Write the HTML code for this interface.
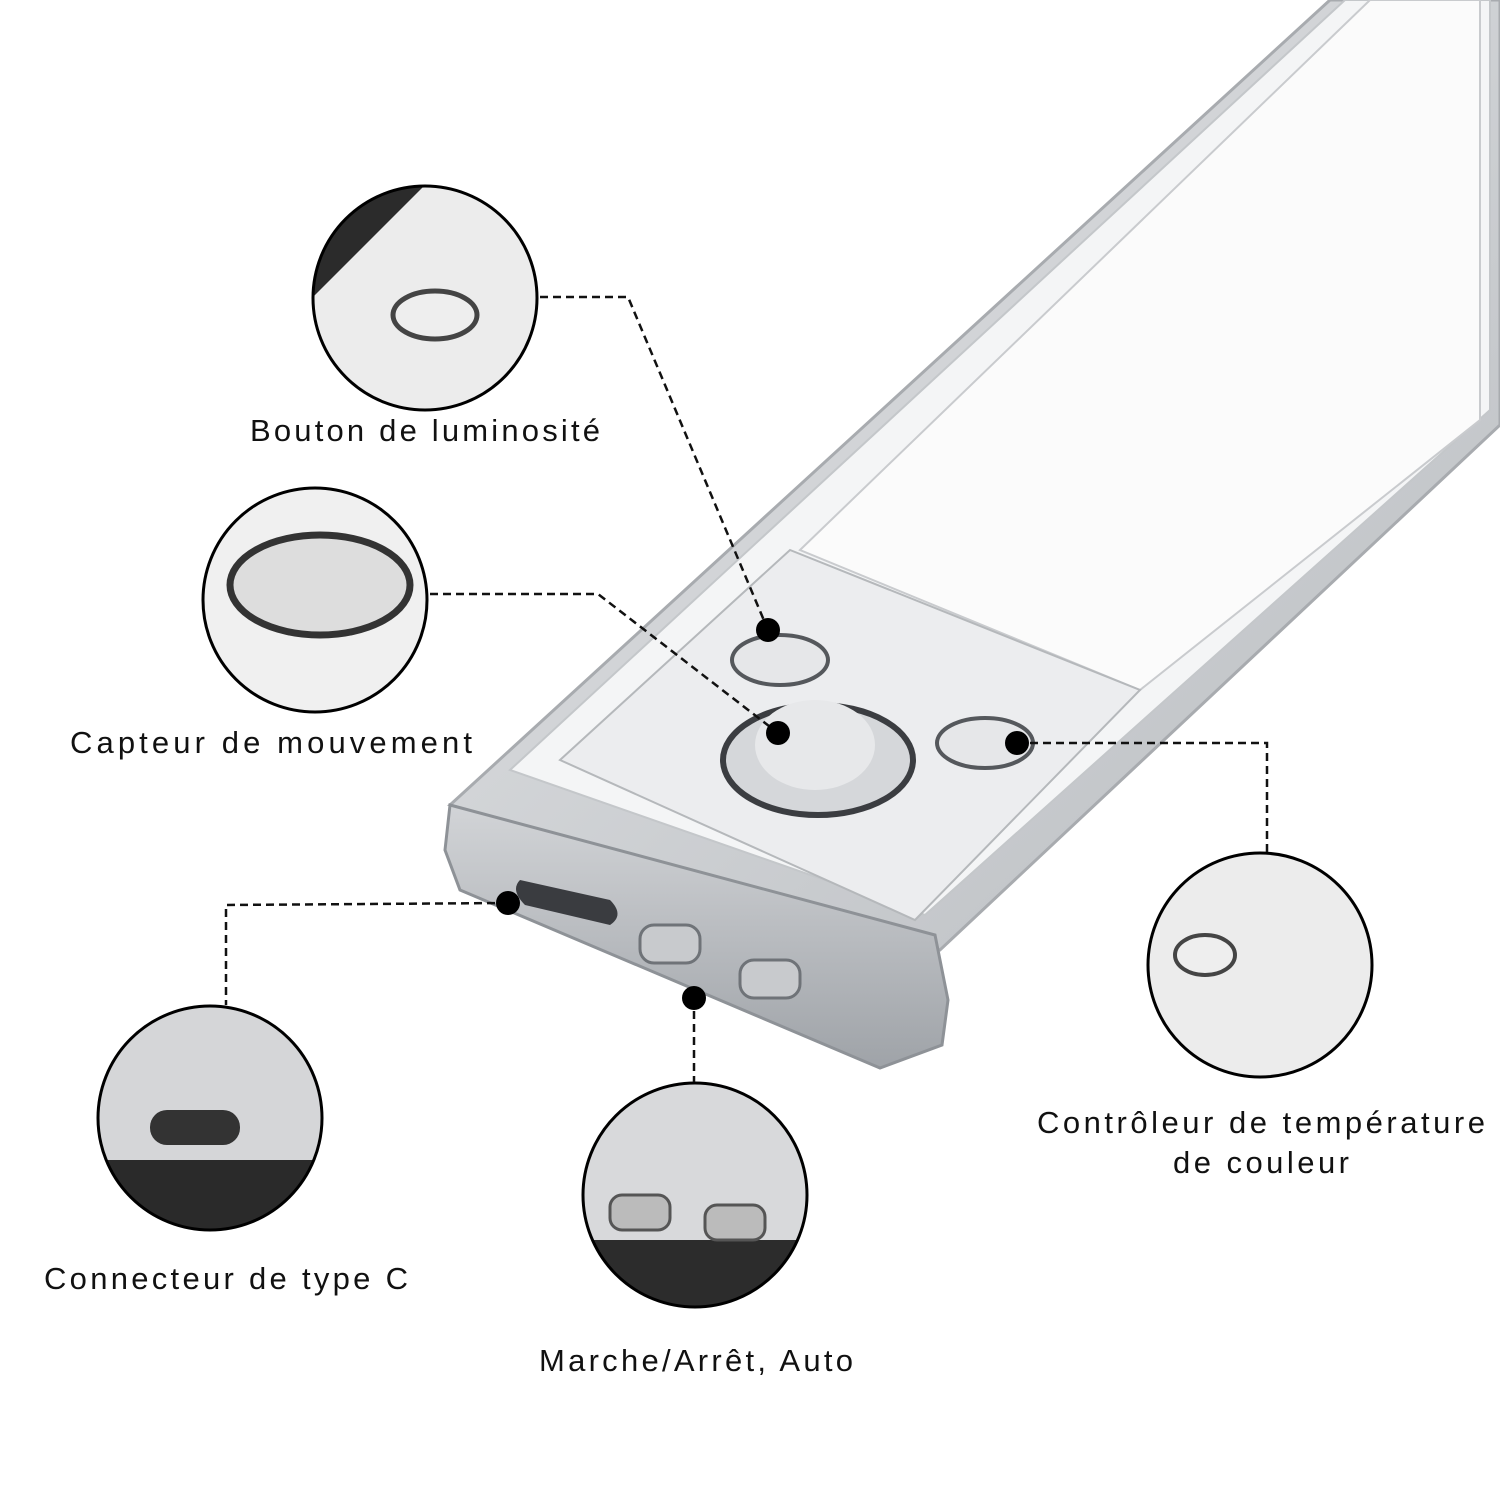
<!DOCTYPE html>
<html><head><meta charset="utf-8"><style>
html,body{margin:0;padding:0;background:#fff;}
svg{display:block}
text{font-family:"Liberation Sans",sans-serif;font-size:31px;fill:#111}
</style></head><body>
<svg width="1500" height="1500" viewBox="0 0 1500 1500" xmlns="http://www.w3.org/2000/svg">
<defs>
<linearGradient id="g1" x1="0" y1="0" x2="1" y2="1"><stop offset="0" stop-color="#e4e6e8"/><stop offset="1" stop-color="#b9bcc0"/></linearGradient>
<linearGradient id="g2" x1="0" y1="0" x2="0" y2="1"><stop offset="0" stop-color="#d2d4d7"/><stop offset="1" stop-color="#9fa3a8"/></linearGradient>
<clipPath id="c1"><circle cx="425" cy="298" r="112"/></clipPath>
<clipPath id="c2"><circle cx="315" cy="600" r="112"/></clipPath>
<clipPath id="c3"><circle cx="1260" cy="965" r="112"/></clipPath>
<clipPath id="c4"><circle cx="210" cy="1118" r="112"/></clipPath>
<clipPath id="c5"><circle cx="695" cy="1195" r="112"/></clipPath>
</defs>
<polygon points="450,805 1330,0 1500,0 1500,425 940,950" fill="url(#g1)" stroke="#a8abaf" stroke-width="3"/>
<polygon points="510,770 1345,0 1490,0 1490,410 925,915" fill="#f4f5f6" stroke="#c4c7ca" stroke-width="2"/>
<polygon points="800,550 1370,0 1480,0 1480,420 1140,690" fill="#fbfbfb" stroke="#c9cbce" stroke-width="2"/>
<polygon points="560,760 790,550 1140,690 915,920" fill="#ecedef" stroke="#b5b8bb" stroke-width="2"/>
<polygon points="450,805 935,935 948,1000 942,1045 880,1068 460,890 445,850" fill="url(#g2)" stroke="#8e9297" stroke-width="3"/>
<path d="M520,880 L610,900 Q625,915 610,925 L525,905 Q510,890 520,880Z" fill="#3a3c40"/>
<rect x="640" y="925" width="60" height="38" rx="14" fill="#c8cacd" stroke="#6f7378" stroke-width="3"/>
<rect x="740" y="960" width="60" height="38" rx="14" fill="#c8cacd" stroke="#6f7378" stroke-width="3"/>
<ellipse cx="780" cy="660" rx="48" ry="25" fill="#e6e7e9" stroke="#55585c" stroke-width="4"/>
<ellipse cx="818" cy="760" rx="95" ry="55" fill="#d5d7da" stroke="#3b3d41" stroke-width="6"/>
<ellipse cx="815" cy="745" rx="60" ry="45" fill="#e7e8ea"/>
<ellipse cx="985" cy="743" rx="48" ry="25" fill="#e6e7e9" stroke="#55585c" stroke-width="4"/>
<g clip-path="url(#c1)"><rect x="300" y="180" width="260" height="240" fill="#ececec"/><polygon points="300,180 430,180 310,300" fill="#2b2b2b"/><ellipse cx="435" cy="315" rx="42" ry="24" fill="#eee" stroke="#444" stroke-width="5"/></g>
<circle cx="425" cy="298" r="112" fill="none" stroke="#000" stroke-width="3"/>
<g clip-path="url(#c2)"><rect x="200" y="480" width="240" height="240" fill="#f0f0f0"/><ellipse cx="320" cy="585" rx="90" ry="50" fill="#ddd" stroke="#333" stroke-width="7"/></g>
<circle cx="315" cy="600" r="112" fill="none" stroke="#000" stroke-width="3"/>
<g clip-path="url(#c3)"><rect x="1140" y="850" width="240" height="240" fill="#ececec"/><ellipse cx="1205" cy="955" rx="30" ry="20" fill="#eee" stroke="#444" stroke-width="4"/></g>
<circle cx="1260" cy="965" r="112" fill="none" stroke="#000" stroke-width="3"/>
<g clip-path="url(#c4)"><rect x="95" y="1000" width="240" height="240" fill="#d5d6d8"/><rect x="95" y="1160" width="240" height="80" fill="#2a2a2a"/><rect x="150" y="1110" width="90" height="35" rx="17" fill="#333"/></g>
<circle cx="210" cy="1118" r="112" fill="none" stroke="#000" stroke-width="3"/>
<g clip-path="url(#c5)"><rect x="580" y="1080" width="240" height="240" fill="#d8d9db"/><rect x="580" y="1240" width="240" height="80" fill="#2c2c2c"/><rect x="610" y="1195" width="60" height="35" rx="12" fill="#bbb" stroke="#555" stroke-width="3"/><rect x="705" y="1205" width="60" height="35" rx="12" fill="#bbb" stroke="#555" stroke-width="3"/></g>
<circle cx="695" cy="1195" r="112" fill="none" stroke="#000" stroke-width="3"/>
<g fill="none" stroke="#111" stroke-width="2.5" stroke-dasharray="8,5">
<polyline points="540,297 628,297 768,630"/>
<polyline points="430,594 598,594 778,733"/>
<polyline points="1017,743 1267,743 1267,852"/>
<polyline points="508,903 226,905 226,1005"/>
<polyline points="694,998 694,1082"/>
</g>
<g fill="#000">
<circle cx="768" cy="630" r="12"/><circle cx="778" cy="733" r="12"/><circle cx="1017" cy="743" r="12"/><circle cx="508" cy="903" r="12"/><circle cx="694" cy="998" r="12"/>
</g>
<text x="250" y="441" textLength="350" lengthAdjust="spacing">Bouton de luminosité</text>
<text x="70" y="753" textLength="402" lengthAdjust="spacing">Capteur de mouvement</text>
<text x="1037" y="1133" textLength="448" lengthAdjust="spacing">Contrôleur de température</text>
<text x="1173" y="1173" textLength="176" lengthAdjust="spacing">de couleur</text>
<text x="44" y="1289" textLength="364" lengthAdjust="spacing">Connecteur de type C</text>
<text x="539" y="1371" textLength="314" lengthAdjust="spacing">Marche/Arrêt, Auto</text>
</svg>
</body></html>
